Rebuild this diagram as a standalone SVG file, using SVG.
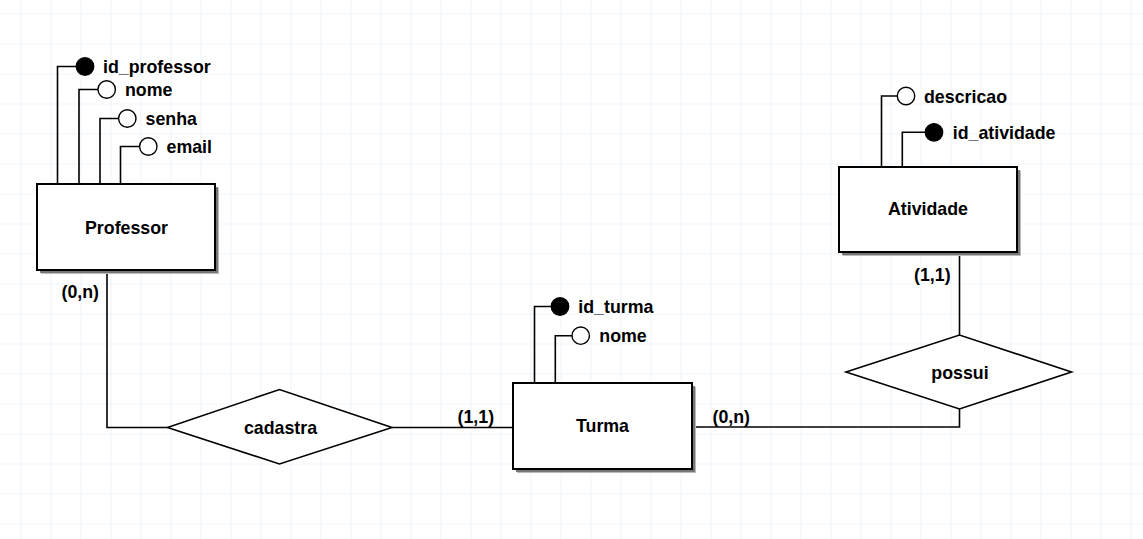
<svg xmlns="http://www.w3.org/2000/svg" width="1143" height="539" viewBox="0 0 1143 539">
<style>
text{font-family:"Liberation Sans",Arial,sans-serif;font-weight:bold;font-size:17.8px;fill:#000}
.c{text-anchor:middle}
.ln{fill:none;stroke:#000;stroke-width:1.6}
.ent{fill:#fff;stroke:#000;stroke-width:2}
.sh1{fill:#777}
.sh2{fill:#bbb}
.rel{fill:#fff;stroke:#000;stroke-width:1.6}
.att{fill:#fff;stroke:#000;stroke-width:1.4}
.key{fill:#000;stroke:#000;stroke-width:1.4}
</style>
<defs>
<pattern id="grid" x="20.5" y="13.5" width="30" height="30" patternUnits="userSpaceOnUse">
<path d="M0 0V30M0 0H30" fill="none" stroke="#e3edf8" stroke-width="1.2"/>
</pattern>
</defs>
<rect width="1143" height="539" fill="#fff"/>
<rect width="1143" height="539" fill="url(#grid)"/>
<g id="connectors">
<polyline class="ln" points="107,271 107,427.5 168,427.5"/>
<line class="ln" x1="392" y1="427.5" x2="513" y2="427.5"/>
<polyline class="ln" points="693,427 959.5,427 959.5,409"/>
<line class="ln" x1="959.5" y1="252" x2="959.5" y2="335"/>
<text x="61.5" y="297.5">(0,n)</text>
<text x="457.5" y="422.5">(1,1)</text>
<text x="712.5" y="422.5">(0,n)</text>
<text x="914" y="281">(1,1)</text>
</g>
<g id="professor">
<rect class="sh2" x="41" y="188" width="178" height="86"/>
<rect class="sh1" x="40" y="187" width="178" height="86"/>
<rect class="ent" x="37" y="184" width="178" height="86"/>
<text class="c" x="126.5" y="234">Professor</text>
</g>
<g id="attr-id_professor">
<polyline class="ln" points="57.5,184 57.5,66.5 76,66.5"/>
<circle class="key" cx="85" cy="66.5" r="8.7"/>
<text x="103" y="73">id_professor</text>
</g>
<g id="attr-prof-nome">
<polyline class="ln" points="79,184 79,89.5 98,89.5"/>
<circle class="att" cx="106.7" cy="89.5" r="8.7"/>
<text x="125" y="96">nome</text>
</g>
<g id="attr-senha">
<polyline class="ln" points="100,184 100,118.5 118.5,118.5"/>
<circle class="att" cx="127.3" cy="118.5" r="8.7"/>
<text x="145.5" y="125">senha</text>
</g>
<g id="attr-email">
<polyline class="ln" points="120.5,184 120.5,146.5 139.5,146.5"/>
<circle class="att" cx="148.3" cy="146.5" r="8.7"/>
<text x="166.5" y="153">email</text>
</g>
<g id="cadastra">
<polygon class="rel" points="167.5,427.5 279.5,389.5 392,427.5 279.5,464"/>
<text class="c" x="280.5" y="434.3">cadastra</text>
</g>
<g id="turma">
<rect class="sh2" x="517" y="387" width="179" height="86"/>
<rect class="sh1" x="516" y="386" width="179" height="86"/>
<rect class="ent" x="513" y="383" width="179" height="86"/>
<text class="c" x="602.5" y="432.3">Turma</text>
</g>
<g id="attr-id_turma">
<polyline class="ln" points="534.5,383 534.5,306.5 551.5,306.5"/>
<circle class="key" cx="560" cy="306.5" r="8.7"/>
<text x="578.3" y="313">id_turma</text>
</g>
<g id="attr-turma-nome">
<polyline class="ln" points="555.3,383 555.3,335.7 572,335.7"/>
<circle class="att" cx="580.7" cy="335.7" r="8.7"/>
<text x="599.3" y="342.2">nome</text>
</g>
<g id="atividade">
<rect class="sh2" x="843" y="171" width="178" height="85"/>
<rect class="sh1" x="842" y="170" width="178" height="85"/>
<rect class="ent" x="839" y="167" width="178" height="85"/>
<text class="c" x="928" y="215">Atividade</text>
</g>
<g id="attr-descricao">
<polyline class="ln" points="881.5,167 881.5,96 897.3,96"/>
<circle class="att" cx="906" cy="96" r="8.7"/>
<text x="924" y="102.5">descricao</text>
</g>
<g id="attr-id_atividade">
<polyline class="ln" points="902.3,167 902.3,132.3 925.3,132.3"/>
<circle class="key" cx="934" cy="132.3" r="8.7"/>
<text x="952.7" y="138.8">id_atividade</text>
</g>
<g id="possui">
<polygon class="rel" points="846,372 959.5,335 1071.5,372 959.5,409"/>
<text class="c" x="960" y="379">possui</text>
</g>
</svg>
